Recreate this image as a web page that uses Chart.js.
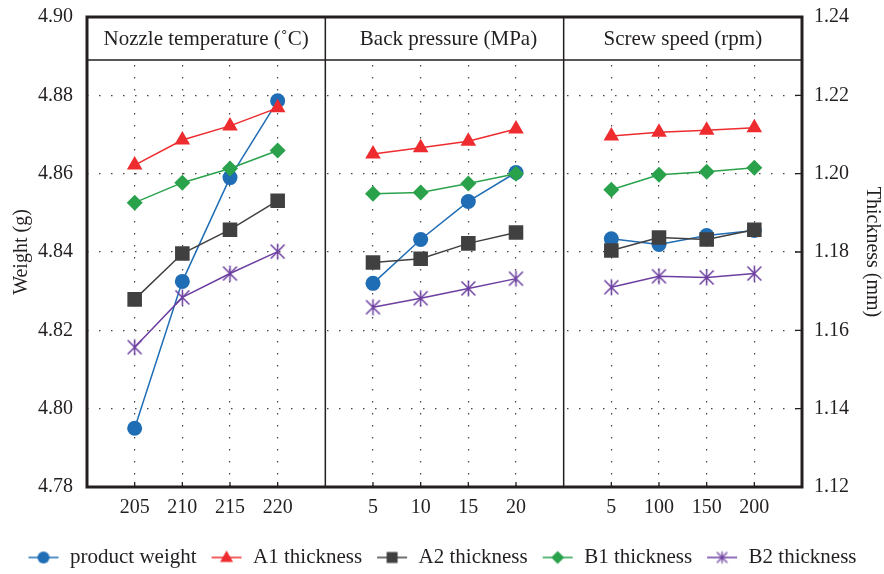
<!DOCTYPE html>
<html>
<head>
<meta charset="utf-8">
<script src="https://cdn.jsdelivr.net/npm/chart.js@4.4.1/dist/chart.umd.min.js"></script>
<style>
  html, body { margin: 0; padding: 0; background: #fff; }
  #wrap { width: 884px; height: 574px; }
</style>
</head>
<body>
<div id="wrap"><canvas id="chart" width="884" height="574"></canvas></div>
<script>
/* data */
const groupTitles = ['Nozzle temperature (˚C)', 'Back pressure (MPa)', 'Screw speed (rpm)'];
const nozzleTemps = ['205', '210', '215', '220'];
const backPressures = ['5', '10', '15', '20'];
const screwSpeeds = ['5', '100', '150', '200'];

const weightTicks = [4.78, 4.80, 4.82, 4.84, 4.86, 4.88, 4.90];
const thicknessTicks = [1.12, 1.14, 1.16, 1.18, 1.20, 1.22, 1.24];

// nozzle temp (4) | back pressure (4) | screw speed (4)
const productWeight = [4.795, 4.8325, 4.859, 4.8786, 4.832, 4.8432, 4.8529, 4.8603, 4.8434, 4.8419, 4.8442, 4.8455];
const a1Thickness = [1.2022, 1.2086, 1.2122, 1.2168, 1.2050, 1.2066, 1.2083, 1.2114, 1.2096, 1.2106, 1.2111, 1.2117];
const a2Thickness = [1.1679, 1.1796, 1.1857, 1.1931, 1.1773, 1.1783, 1.1822, 1.1850, 1.1804, 1.1837, 1.1832, 1.1857];
const b1Thickness = [1.1926, 1.1977, 1.2013, 1.2059, 1.1949, 1.1952, 1.1975, 1.2000, 1.1959, 1.1997, 1.2005, 1.2015];
const b2Thickness = [1.1557, 1.1684, 1.1745, 1.1801, 1.1659, 1.1682, 1.1707, 1.1732, 1.1710, 1.1738, 1.1735, 1.1745];

const FONT = '"Liberation Serif", "DejaVu Serif", serif';
const INK = '#231f20';
const BLUE = '#1f6db5', RED = '#ee2b2e', GRAY = '#404040', GREEN = '#2aa24c', PURPLE = '#6c3fa0';

/* x slots: empty edge, 4 values, separator, 4 values, separator, 4 values, empty edge */
const xLabels = ['', ...nozzleTemps, '', ...backPressures, '', ...screwSpeeds, ''];
const spread = v => [null, ...v.slice(0, 4), null, ...v.slice(4, 8), null, ...v.slice(8, 12), null];
const isEdge = i => i % 5 === 0;

/* asterisk marker for B2 */
function asterisk(size, color, lw) {
  const c = document.createElement('canvas');
  c.width = size; c.height = size;
  const g = c.getContext('2d');
  const m = size / 2, r = size / 2 - 1.5;
  g.strokeStyle = color; g.lineWidth = lw;
  g.beginPath();
  g.moveTo(m - r * 0.87, m - r * 0.87); g.lineTo(m + r * 0.87, m + r * 0.87);
  g.moveTo(m + r * 0.87, m - r * 0.87); g.lineTo(m - r * 0.87, m + r * 0.87);
  g.moveTo(m, m - r); g.lineTo(m, m + r);
  g.stroke();
  return c;
}

/* legend icon: short line with the marker in the middle */
const ICON_W = 32;
function legendIcon(color, style) {
  const c = document.createElement('canvas');
  c.width = ICON_W; c.height = 16;
  const g = c.getContext('2d');
  const m = ICON_W / 2;
  g.strokeStyle = color; g.fillStyle = color; g.lineWidth = 1.5;
  g.beginPath(); g.moveTo(1, 8); g.lineTo(ICON_W - 1, 8); g.stroke();
  g.beginPath();
  if (style === 'circle') g.arc(m, 8, 6, 0, Math.PI * 2);
  else if (style === 'triangle') { g.moveTo(m, 1); g.lineTo(m + 6.5, 12.5); g.lineTo(m - 6.5, 12.5); g.closePath(); }
  else if (style === 'rect') g.rect(m - 5.5, 2.5, 11, 11);
  else if (style === 'rectRot') { g.moveTo(m, 1.5); g.lineTo(m + 6.5, 8); g.lineTo(m, 14.5); g.lineTo(m - 6.5, 8); g.closePath(); }
  if (style === 'star') {
    g.drawImage(asterisk(15, color, 1.3), m - 7.5, 0.5);
  } else {
    g.fill();
  }
  return c;
}

const legendIcons = [
  legendIcon(BLUE, 'circle'),
  legendIcon(RED, 'triangle'),
  legendIcon(GRAY, 'rect'),
  legendIcon(GREEN, 'rectRot'),
  legendIcon(PURPLE, 'star')
];

const HEADER_H = 43;

const panelPlugin = {
  id: 'panels',
  beforeDatasetsDraw(chart) {
    const { ctx, chartArea: { left, right, top, bottom }, scales: { x } } = chart;
    const s1 = x.getPixelForValue(5), s2 = x.getPixelForValue(10);
    ctx.save();
    ctx.fillStyle = '#fff';
    ctx.fillRect(left, top, right - left, HEADER_H);
    ctx.strokeStyle = INK;
    ctx.lineWidth = 1.5;
    ctx.beginPath();
    ctx.moveTo(left, top + HEADER_H); ctx.lineTo(right, top + HEADER_H);
    ctx.moveTo(s1, top); ctx.lineTo(s1, bottom);
    ctx.moveTo(s2, top); ctx.lineTo(s2, bottom);
    ctx.stroke();
    ctx.fillStyle = INK;
    ctx.font = '21px ' + FONT;
    ctx.textAlign = 'center';
    ctx.textBaseline = 'middle';
    const edges = [left, s1, s2, right];
    groupTitles.forEach((t, i) => {
      ctx.fillText(t, (edges[i] + edges[i + 1]) / 2 + (i === 1 ? 4 : 0), top + HEADER_H / 2 + 1);
    });
    ctx.restore();
  },
  afterDraw(chart) {
    const { ctx, chartArea: { left, right, top, bottom }, scales: { x, y1 } } = chart;
    ctx.save();
    ctx.strokeStyle = INK;
    // small inward ticks
    ctx.lineWidth = 1.3;
    ctx.beginPath();
    thicknessTicks.forEach(v => {
      const py = y1.getPixelForValue(v);
      ctx.moveTo(right - 7, py); ctx.lineTo(right, py);
    });
    xLabels.forEach((lab, i) => {
      if (isEdge(i)) return;
      const px = x.getPixelForValue(i);
      ctx.moveTo(px, bottom); ctx.lineTo(px, bottom - 5);
    });
    ctx.stroke();
    // frame
    ctx.lineWidth = 3;
    ctx.strokeRect(left, top, right - left, bottom - top);
    ctx.restore();
  }
};

const near = (a, b) => Math.abs(a - b) < 1e-6;
const fitY = w => s => { s.width = w; s.paddingTop = 0; s.paddingBottom = 0; };

new Chart(document.getElementById('chart'), {
  type: 'line',
  data: {
    labels: xLabels,
    datasets: [
      { label: 'product weight', data: spread(productWeight), yAxisID: 'y', borderColor: BLUE, backgroundColor: BLUE,
        pointStyle: 'circle', pointRadius: 7.5, pointHoverRadius: 7.5, order: 4 },
      { label: 'A1 thickness', data: spread(a1Thickness), yAxisID: 'y1', borderColor: RED, backgroundColor: RED,
        pointStyle: 'triangle', pointRadius: 9, pointHoverRadius: 9, order: 3 },
      { label: 'A2 thickness', data: spread(a2Thickness), yAxisID: 'y1', borderColor: GRAY, backgroundColor: GRAY,
        pointStyle: 'rect', pointRadius: 10.3, pointHoverRadius: 10.3, order: 2 },
      { label: 'B1 thickness', data: spread(b1Thickness), yAxisID: 'y1', borderColor: GREEN, backgroundColor: GREEN,
        pointStyle: 'rectRot', pointRadius: 8, pointHoverRadius: 8, order: 1 },
      { label: 'B2 thickness', data: spread(b2Thickness), yAxisID: 'y1', borderColor: PURPLE, backgroundColor: PURPLE,
        pointStyle: asterisk(19, PURPLE, 1.5), pointRadius: 9, pointHoverRadius: 9, order: 0 }
    ].map(d => Object.assign(d, { borderWidth: 1.5, pointBorderWidth: 0, spanGaps: false, tension: 0 }))
  },
  options: {
    responsive: false,
    devicePixelRatio: 1,
    animation: false,
    layout: { padding: { top: 17, left: 0, right: 0, bottom: -4 } },
    plugins: {
      tooltip: { enabled: false },
      legend: {
        position: 'bottom',
        labels: {
          usePointStyle: true,
          pointStyleWidth: ICON_W,
          padding: 14,
          color: INK,
          font: { family: FONT, size: 21 },
          generateLabels: chart => chart.data.datasets.map((ds, i) => ({
            text: ds.label, pointStyle: legendIcons[i], fillStyle: 'transparent',
            strokeStyle: 'transparent', lineWidth: 0, hidden: false, datasetIndex: i, fontColor: INK
          }))
        }
      }
    },
    scales: {
      x: {
        type: 'category',
        offset: false,
        afterFit: s => { s.height = 46; },
        grid: {
          drawTicks: false,
          lineWidth: 1.2,
          color: c => isEdge(c.index) ? 'rgba(0,0,0,0)' : '#444'
        },
        border: { display: false, dash: [1.5, 10.5] },
        ticks: { autoSkip: false, maxRotation: 0, padding: 9, color: INK, font: { family: FONT, size: 20 } }
      },
      y: {
        position: 'left',
        min: weightTicks[0],
        max: weightTicks[weightTicks.length - 1],
        afterFit: fitY(87),
        afterBuildTicks: s => { s.ticks = weightTicks.map(v => ({ value: v })); },
        grid: {
          drawTicks: false,
          lineWidth: 1.2,
          color: c => (c.tick && (near(c.tick.value, 4.78) || near(c.tick.value, 4.90))) ? 'rgba(0,0,0,0)' : '#444'
        },
        border: { display: false, dash: [1.5, 10.5] },
        ticks: { padding: 14, color: INK, font: { family: FONT, size: 20 }, callback: v => Number(v).toFixed(2) },
        title: { display: true, text: 'Weight (g)', color: INK, font: { family: FONT, size: 20 }, padding: { top: 10, bottom: 0 } }
      },
      y1: {
        position: 'right',
        min: thicknessTicks[0],
        max: thicknessTicks[thicknessTicks.length - 1],
        afterFit: fitY(82),
        afterBuildTicks: s => { s.ticks = thicknessTicks.map(v => ({ value: v })); },
        grid: { drawOnChartArea: false, drawTicks: false },
        border: { display: false },
        ticks: { padding: 12, color: INK, font: { family: FONT, size: 20 }, callback: v => Number(v).toFixed(2) },
        title: { display: true, text: 'Thickness (mm)', color: INK, font: { family: FONT, size: 20 }, padding: { top: 0, bottom: 0 } }
      }
    }
  },
  plugins: [panelPlugin]
});
</script>
</body>
</html>
